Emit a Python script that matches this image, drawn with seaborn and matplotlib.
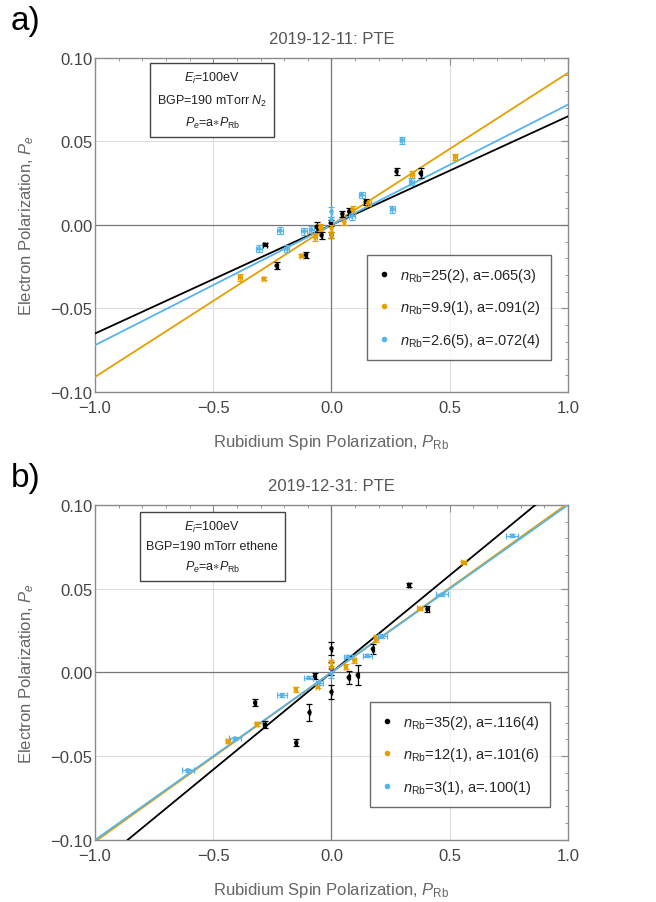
import numpy as np
import pandas as pd
import matplotlib
matplotlib.use('Agg')
import matplotlib.pyplot as plt
from matplotlib.lines import Line2D
from matplotlib.ticker import MultipleLocator
import seaborn as sns

sns.set_style('white')
plt.rcParams['font.family'] = ['Liberation Sans', 'DejaVu Sans']
plt.rcParams['mathtext.fontset'] = 'custom'
plt.rcParams['mathtext.rm'] = 'Liberation Sans'
plt.rcParams['mathtext.it'] = 'Liberation Sans:italic'
plt.rcParams['mathtext.bf'] = 'Liberation Sans:bold'

colors = ['#000000', '#E69F00', '#56B4E9']

# ---- panel a) 2019-12-11 ----
a_black_x = [-0.282, -0.232, -0.108, -0.063, -0.042, -0.003, 0.0, 0.046, 0.075, 0.145, 0.275, 0.377]
a_black_y = [-0.0118, -0.0244, -0.018, -0.0012, -0.0062, 0.0012, -0.006, 0.0066, 0.008, 0.0138, 0.032, 0.031]
a_black_yerr = [0.001, 0.002, 0.002, 0.003, 0.002, 0.002, 0.002, 0.002, 0.002, 0.002, 0.002, 0.003]
a_black_xerr = [0.008, 0.004, 0.004, 0.004, 0.004, 0.004, 0.004, 0.004, 0.004, 0.008, 0.004, 0.004]

a_orange_x = [-0.386, -0.287, -0.127, -0.069, -0.048, 0.0, 0.0, 0.054, 0.089, 0.156, 0.342, 0.523]
a_orange_y = [-0.0314, -0.0322, -0.0184, -0.0074, -0.0014, -0.006, -0.002, 0.0018, 0.0092, 0.0132, 0.030, 0.0406]
a_orange_yerr = [0.002, 0.001, 0.001, 0.002, 0.002, 0.002, 0.002, 0.002, 0.002, 0.002, 0.002, 0.002]
a_orange_xerr = [0.008, 0.008, 0.008, 0.006, 0.006, 0.004, 0.004, 0.004, 0.008, 0.01, 0.008, 0.008]

a_blue_x = [-0.306, -0.217, -0.19, -0.115, -0.085, 0.0, 0.0, 0.086, 0.128, 0.258, 0.297, 0.338]
a_blue_y = [-0.0142, -0.0034, -0.0142, -0.0038, -0.0028, 0.008, 0.003, 0.0052, 0.018, 0.0094, 0.0506, 0.0258]
a_blue_yerr = [0.002, 0.002, 0.002, 0.002, 0.002, 0.003, 0.002, 0.002, 0.002, 0.002, 0.002, 0.002]
a_blue_xerr = [0.012, 0.012, 0.012, 0.012, 0.012, 0.004, 0.004, 0.012, 0.012, 0.012, 0.008, 0.012]

a_slopes = [0.065, 0.091, 0.072]
a_labels = [r'$n_{\rm Rb}$=25(2), a=.065(3)', r'$n_{\rm Rb}$=9.9(1), a=.091(2)', r'$n_{\rm Rb}$=2.6(5), a=.072(4)']

# ---- panel b) 2019-12-31 ----
b_black_x = [-0.323, -0.282, -0.149, -0.093, -0.070, 0.0, 0.0, 0.0, 0.073, 0.111, 0.175, 0.328, 0.406]
b_black_y = [-0.0181, -0.0311, -0.042, -0.0239, -0.0022, 0.0143, 0.0024, -0.0116, -0.003, -0.0016, 0.014, 0.0522, 0.0378]
b_black_yerr = [0.002, 0.002, 0.002, 0.005, 0.002, 0.004, 0.004, 0.004, 0.004, 0.006, 0.003, 0.001, 0.002]
b_black_xerr = [0.004, 0.006, 0.004, 0.004, 0.004, 0.002, 0.002, 0.002, 0.004, 0.004, 0.004, 0.004, 0.006]

b_orange_x = [-0.439, -0.317, -0.151, -0.058, 0.0, 0.0, 0.061, 0.096, 0.187, 0.373, 0.558]
b_orange_y = [-0.041, -0.0307, -0.010, -0.0084, 0.0064, 0.0028, 0.0034, 0.0072, 0.0203, 0.0382, 0.0657]
b_orange_yerr = [0.001, 0.001, 0.0015, 0.001, 0.001, 0.001, 0.0015, 0.0015, 0.002, 0.001, 0.001]
b_orange_xerr = [0.008, 0.008, 0.006, 0.006, 0.004, 0.004, 0.006, 0.006, 0.008, 0.01, 0.01]

b_blue_x = [-0.608, -0.408, -0.210, -0.097, -0.052, 0.0, 0.070, 0.152, 0.215, 0.469, 0.765]
b_blue_y = [-0.0584, -0.0394, -0.0135, -0.0032, -0.0062, -0.0006, 0.0094, 0.010, 0.0217, 0.0466, 0.0817]
b_blue_yerr = [0.001, 0.001, 0.001, 0.001, 0.001, 0.003, 0.001, 0.001, 0.001, 0.001, 0.001]
b_blue_xerr = [0.025, 0.025, 0.02, 0.02, 0.015, 0.004, 0.015, 0.02, 0.02, 0.025, 0.025]

b_slopes = [0.116, 0.101, 0.100]
b_labels = [r'$n_{\rm Rb}$=35(2), a=.116(4)', r'$n_{\rm Rb}$=12(1), a=.101(6)', r'$n_{\rm Rb}$=3(1), a=.100(1)']

panels = [
    dict(title='2019-12-11: PTE',
         series=[(a_black_x, a_black_y, a_black_xerr, a_black_yerr),
                 (a_orange_x, a_orange_y, a_orange_xerr, a_orange_yerr),
                 (a_blue_x, a_blue_y, a_blue_xerr, a_blue_yerr)],
         slopes=a_slopes, labels=a_labels,
         box=r'$E_i$=100eV' + '\n' + r'BGP=190 mTorr $N_2$' + '\n' + r'$P_e$=a$\ast$$P_{\rm Rb}$',
         box_pos=(0.248, 0.874), leg_pos=(0.575, 0.096), tag='a)', tag_y=0.993),
    dict(title='2019-12-31: PTE',
         series=[(b_black_x, b_black_y, b_black_xerr, b_black_yerr),
                 (b_orange_x, b_orange_y, b_orange_xerr, b_orange_yerr),
                 (b_blue_x, b_blue_y, b_blue_xerr, b_blue_yerr)],
         slopes=b_slopes, labels=b_labels,
         box=r'$E_i$=100eV' + '\n' + r'BGP=190 mTorr ethene' + '\n' + r'$P_e$=a$\ast$$P_{\rm Rb}$',
         box_pos=(0.248, 0.875), leg_pos=(0.581, 0.0985), tag='b)', tag_y=0.487),
]

fig = plt.figure(figsize=(6.56, 9.03), dpi=100)
axes = [fig.add_axes([0.1448, 0.5648, 0.721, 0.370]),
        fig.add_axes([0.1448, 0.0687, 0.721, 0.371])]

frame_col = '#8a8a8a'
label_col = '#666666'

for ax, p in zip(axes, panels):
    # grid and zero lines
    for gx in [-0.5, 0.5]:
        ax.axvline(gx, color='#dcdcdc', lw=0.8, zorder=0)
    for gy in [-0.05, 0.05]:
        ax.axhline(gy, color='#dcdcdc', lw=0.8, zorder=0)
    ax.axvline(0, color='#777777', lw=0.9, zorder=1)
    ax.axhline(0, color='#777777', lw=0.9, zorder=1)

    # fit lines
    xfit = np.array([-1.0, 1.0])
    for a, c in zip(p['slopes'], colors):
        fit = pd.DataFrame({'x': xfit, 'y': a * xfit})
        sns.lineplot(data=fit, x='x', y='y', color=c, lw=1.3, ax=ax, zorder=3)

    # data points with error bars
    for (x, y, xe, ye), c in zip(p['series'], colors):
        ax.errorbar(x, y, xerr=xe, yerr=ye, fmt='none', ecolor=c, elinewidth=0.9,
                    capsize=2.2, capthick=0.9, zorder=4)
        pts = pd.DataFrame({'x': x, 'y': y})
        sns.scatterplot(data=pts, x='x', y='y', color=c, s=10, edgecolor='none', ax=ax, zorder=5)

    ax.set_xlim(-1, 1)
    ax.set_ylim(-0.1, 0.1)
    ax.xaxis.set_major_locator(MultipleLocator(0.5))
    ax.xaxis.set_minor_locator(MultipleLocator(0.1))
    ax.yaxis.set_major_locator(MultipleLocator(0.05))
    ax.yaxis.set_minor_locator(MultipleLocator(0.01))
    ax.set_xticks([-1.0, -0.5, 0.0, 0.5, 1.0])
    ax.set_xticklabels(['\u22121.0', '\u22120.5', '0.0', '0.5', '1.0'])
    ax.set_yticks([-0.1, -0.05, 0.0, 0.05, 0.1])
    ax.set_yticklabels(['\u22120.10', '\u22120.05', '0.00', '0.05', '0.10'])
    ax.tick_params(which='both', direction='in', top=True, right=True, color=frame_col,
                   labelsize=12, labelcolor='#444444')
    ax.tick_params(which='major', length=5, width=0.8)
    ax.tick_params(which='minor', length=2.5, width=0.6)
    ax.tick_params(axis='x', which='major', pad=6)
    ax.tick_params(axis='y', which='major', pad=2)
    for s in ax.spines.values():
        s.set_color(frame_col)
        s.set_linewidth(1.0)

    ax.set_xlabel(r'Rubidium Spin Polarization, $P_{\rm Rb}$', fontsize=12, color=label_col, labelpad=12)
    ax.set_ylabel(r'Electron Polarization, $P_e$', fontsize=12, color=label_col, labelpad=10)
    ax.set_title(p['title'], fontsize=12, color='#555555', pad=11)

    ax.text(p['box_pos'][0], p['box_pos'][1], p['box'], transform=ax.transAxes,
            ha='center', va='center', fontsize=9, linespacing=1.65, color='#222222',
            bbox=dict(boxstyle='square,pad=0.55', fc='white', ec='#444444', lw=1.0), zorder=6)

    handles = [Line2D([], [], ls='none', marker='o', ms=3, color=c) for c in colors]
    leg = ax.legend(handles, p['labels'], loc='lower left', bbox_to_anchor=p['leg_pos'],
                    fontsize=10.5, frameon=True, fancybox=False, edgecolor='#444444',
                    handlelength=0.8, handletextpad=0.7, labelspacing=1.0,
                    borderpad=0.75, borderaxespad=0)
    leg.get_frame().set_linewidth(1.0)
    leg.set_zorder(7)

    fig.text(0.016, p['tag_y'], p['tag'], fontsize=24, color='black', ha='left', va='top')

fig.savefig('out.png', dpi=100)
